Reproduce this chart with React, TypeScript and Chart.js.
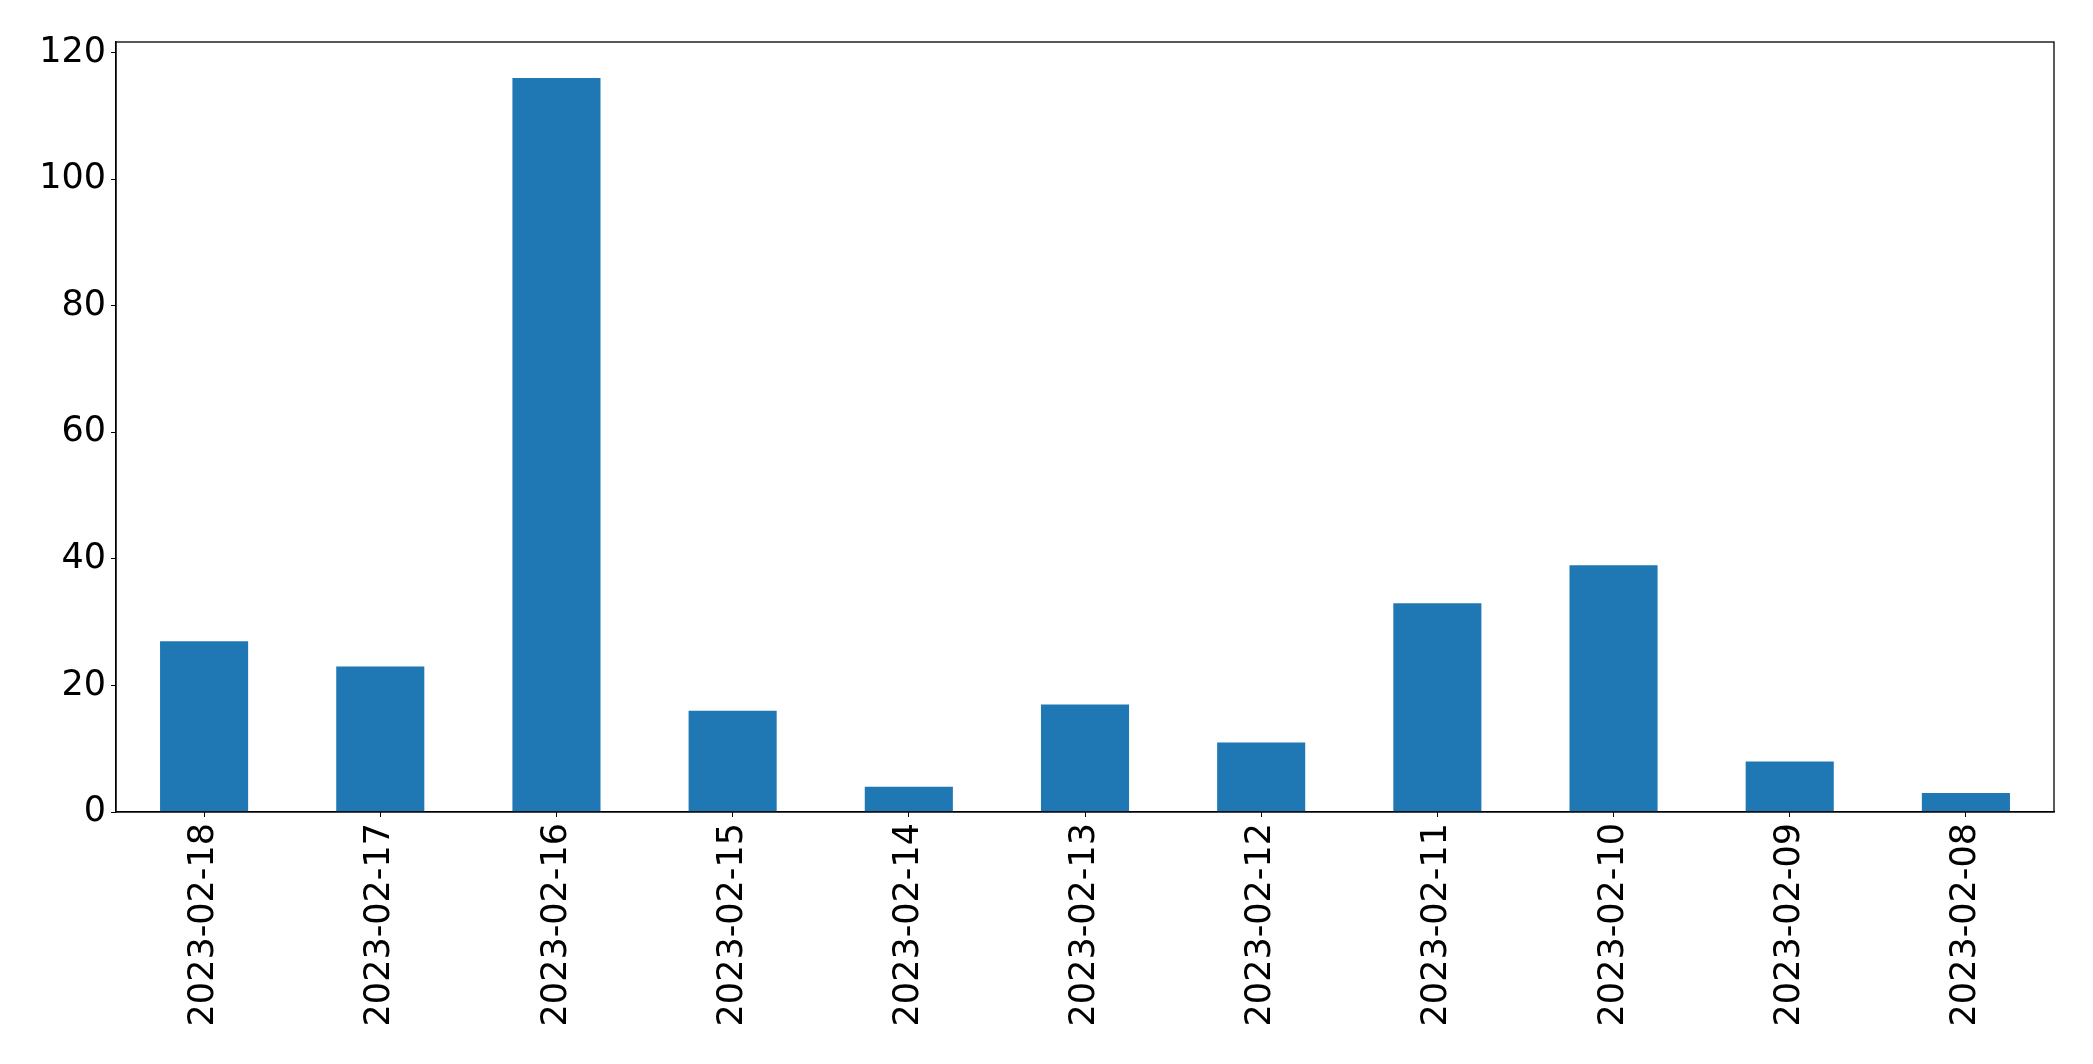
import React, { useEffect, useRef } from "react";
import { Chart, registerables } from "chart.js";

Chart.register(...registerables);

const categories = [
  "2023-02-18", "2023-02-17", "2023-02-16", "2023-02-15", "2023-02-14", "2023-02-13",
  "2023-02-12", "2023-02-11", "2023-02-10", "2023-02-09", "2023-02-08",
];
const counts = [27, 23, 116, 16, 4, 17, 11, 33, 39, 8, 3];
const yTicks = [0, 20, 40, 60, 80, 100, 120];

const W = 2093;
const H = 1064;
const FONT = "'DejaVu Sans', sans-serif";

const framePlugin = {
  id: "frame",
  afterDraw(chart: any) {
    const { ctx, chartArea } = chart;
    ctx.save();
    ctx.strokeStyle = "#000";
    ctx.lineWidth = 1.3;
    ctx.strokeRect(chartArea.left, chartArea.top, chartArea.right - chartArea.left, chartArea.bottom - chartArea.top);
    ctx.restore();
  },
};

export default function App() {
  const ref = useRef<HTMLCanvasElement | null>(null);
  useEffect(() => {
    if (!ref.current) return;
    const chart = new Chart(ref.current, {
      type: "bar",
      data: {
        labels: categories,
        datasets: [
          {
            data: counts,
            backgroundColor: "#1f77b4",
            barPercentage: 0.5,
            categoryPercentage: 1,
          },
        ],
      },
      options: {
        animation: false,
        responsive: false,
        maintainAspectRatio: false,
        layout: { padding: { top: 42, right: 39, left: 0, bottom: 0 } },
        plugins: { legend: { display: false }, tooltip: { enabled: false } },
        scales: {
          x: {
            grid: { display: true, drawOnChartArea: false, drawTicks: true, tickLength: 5, color: "#000", offset: false },
            border: { display: true, color: "#000", width: 1.3 },
            ticks: {
              color: "#000",
              font: { family: FONT, size: 35 },
              minRotation: 90,
              maxRotation: 90,
              autoSkip: false,
              padding: 6,
            },
            afterFit(scale: any) {
              scale.height = H - 812;
            },
          },
          y: {
            min: 0,
            max: 121.7,
            grid: { display: true, drawOnChartArea: false, drawTicks: true, tickLength: 5, color: "#000" },
            border: { display: true, color: "#000", width: 1.3 },
            afterBuildTicks(scale: any) {
              scale.ticks = yTicks.map((v) => ({ value: v }));
            },
            ticks: {
              color: "#000",
              font: { family: FONT, size: 35 },
              padding: 5,
            },
            afterFit(scale: any) {
              scale.width = 116;
            },
          },
        },
      },
      plugins: [framePlugin],
    });
    return () => chart.destroy();
  }, []);
  return (
    <div style={{ position: "fixed", left: 0, top: 0, width: W, height: H, background: "#fff" }}>
      <canvas ref={ref} width={W} height={H} style={{ width: W, height: H, display: "block" }} />
    </div>
  );
}
